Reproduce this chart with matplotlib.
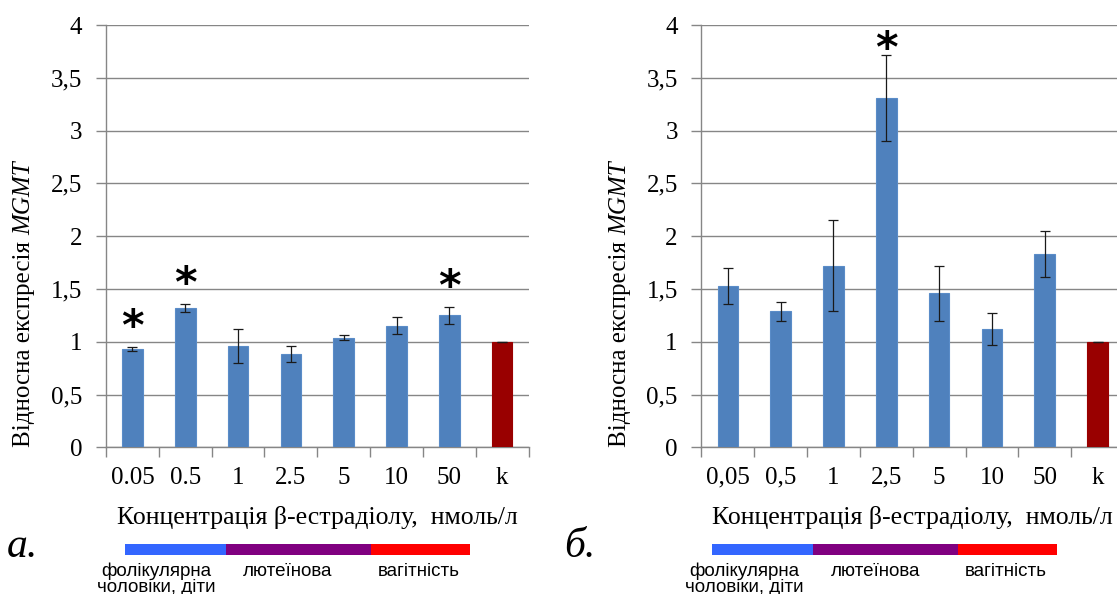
import matplotlib
matplotlib.use("Agg")
import matplotlib.pyplot as plt
from matplotlib.patches import Rectangle
import numpy as np

# ---- data ----
cats_a = ['0.05', '0.5', '1', '2.5', '5', '10', '50', 'k']
vals_a = [0.93, 1.32, 0.96, 0.88, 1.04, 1.15, 1.25, 1.00]
errs_a = [0.02, 0.04, 0.16, 0.075, 0.022, 0.08, 0.08, 0.0]
stars_a = [0, 1, 6]

cats_b = ['0,05', '0,5', '1', '2,5', '5', '10', '50', 'k']
vals_b = [1.53, 1.29, 1.72, 3.31, 1.46, 1.12, 1.83, 1.00]
errs_b = [0.17, 0.09, 0.43, 0.41, 0.26, 0.15, 0.215, 0.0]
stars_b = [3]

yticks = [0, 0.5, 1, 1.5, 2, 2.5, 3, 3.5, 4]
ytick_labels = ['0', '0,5', '1', '1,5', '2', '2,5', '3', '3,5', '4']
xlabel = 'Концентрація β-естрадіолу,  нмоль/л'
ylabel_main = 'Відносна експресія '
ylabel_gene = 'MGMT'
phase_labels = ['фолікулярна\nчоловіки, діти', 'лютеїнова', 'вагітність']

plt.rcParams['font.family'] = ['Liberation Serif', 'DejaVu Serif']

W, H = 1117, 594
fig = plt.figure(figsize=(W / 100, H / 100), dpi=100)

GRAY = '#868686'
BLUE = '#4F81BD'
DARKRED = '#990000'
FS = 18


def px(x, y, w, h):
    return [x / W, 1 - (y + h) / H, w / W, h / H]


def panel(rect, cats, vals, errs, stars, star_gap, letter, letter_x, bar_x0, text_cx):
    ax = fig.add_axes(rect)
    x = np.arange(len(cats))
    colors = [BLUE] * (len(cats) - 1) + [DARKRED]
    ax.bar(x, vals, width=0.39, color=colors,
           edgecolor=['#5A8CC8'] * (len(cats) - 1) + [DARKRED],
           linewidth=0.8, zorder=3)
    ax.errorbar(x, vals, yerr=errs, fmt='none', ecolor='#1a1a1a', elinewidth=0.9,
                capsize=3.6, capthick=0.9, zorder=4)
    for i in stars:
        ax.text(x[i], vals[i] + errs[i] + star_gap, '*', ha='center', va='center',
                fontsize=31, fontweight='bold', family='DejaVu Sans', zorder=5)
    ax.set_xlim(-0.5, len(cats) - 0.5)
    ax.set_ylim(0, 4)
    ax.set_yticks(yticks)
    ax.set_yticklabels(ytick_labels)
    ax.set_xticks(x)
    ax.set_xticklabels(cats)
    ax.set_xticks(np.arange(len(cats) + 1) - 0.5, minor=True)
    ax.tick_params(axis='x', which='major', length=0, pad=14, labelsize=FS)
    ax.tick_params(axis='x', which='minor', length=7, width=1, color=GRAY, direction='out')
    ax.tick_params(axis='y', which='major', length=7, width=1, color=GRAY, pad=10, labelsize=FS)
    ax.yaxis.grid(True, color=GRAY, linewidth=1, zorder=0)
    ax.set_axisbelow(True)
    for s in ['top', 'right']:
        ax.spines[s].set_visible(False)
    for s in ['left', 'bottom']:
        ax.spines[s].set_color(GRAY)
        ax.spines[s].set_linewidth(1)
    ax.text(0.5, -70 / 422.3, xlabel, transform=ax.transAxes, ha='center', va='center',
            fontsize=18.5)
    t1 = ax.text(-0.193, 0.0, ylabel_main, transform=ax.transAxes, ha='center',
                 va='bottom', rotation=90, fontsize=FS)
    ax.annotate(ylabel_gene, xy=(0, 1), xycoords=t1, ha='left', va='bottom',
                rotation=90, fontsize=FS, style='italic')
    # panel letter
    fig.text(letter_x / W, 1 - 547 / H, letter, fontsize=30, style='italic',
             ha='center', va='center')
    # phase bar
    segs = [(bar_x0[0], bar_x0[1], '#3366FF'), (bar_x0[1], bar_x0[2], '#800080'),
            (bar_x0[2], bar_x0[3], '#FF0000')]
    for a, b, c in segs:
        fig.add_artist(Rectangle((a / W, 1 - 555 / H), (b - a) / W, 11.3 / H,
                                 transform=fig.transFigure, color=c, lw=0))
    for lab, cx in zip(phase_labels, text_cx):
        fig.text(cx / W, 1 - 563 / H, lab, ha='center', va='top', fontsize=13.5,
                 family=['Liberation Sans', 'DejaVu Sans'], linespacing=0.9)
    return ax


panel(px(106, 25, 422.6, 422.3), cats_a, vals_a, errs_a, stars_a, 0.18, 'а.', 22,
      [124.6, 225.7, 371.4, 470.0], [156, 287.5, 419])
panel(px(701.4, 25, 422.6, 422.3), cats_b, vals_b, errs_b, stars_b, 0.04, 'б.', 580,
      [712.4, 813.3, 957.9, 1057.3], [744.5, 875.7, 1006])

fig.savefig('out.png', dpi=100)
